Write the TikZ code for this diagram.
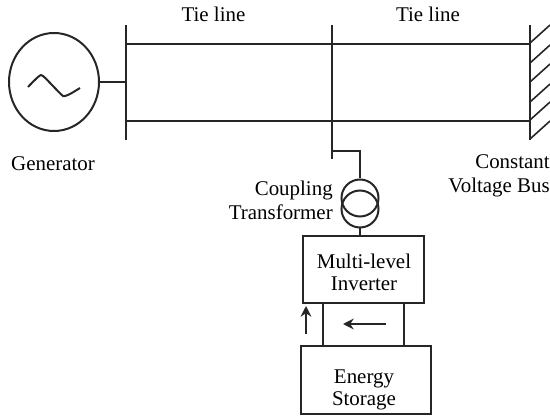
\documentclass[tikz,border=0pt]{standalone}
\usepackage{fontspec}
\setmainfont{Liberation Serif}
\usetikzlibrary{shapes.geometric,arrows.meta}
\tikzset{
  wire/.style={line width=1.5pt,black!85},
  blockbox/.style={draw=black!85,line width=1.5pt,fill=white,inner sep=0pt},
  lbl/.style={inner sep=0pt,align=center,font=\fontsize{15.7}{18}\selectfont},
  flow/.style={line width=1.7pt,black!85,-{Stealth[length=8pt,width=8pt]}}
}
\begin{document}
\begin{tikzpicture}[x=0.75pt,y=-0.75pt]
    \useasboundingbox (0,0) rectangle (550,417);
    % buses
    \coordinate (busAtop) at (126,25);
    \coordinate (busAbot) at (126,140);
    \coordinate (busBtop) at (332,25);
    \coordinate (busBbot) at (332,159);
    \coordinate (busCtop) at (530,25);
    \coordinate (busCbot) at (530,140);
    \draw[wire] (busAtop) -- (busAbot);
    \draw[wire] (busBtop) -- (busBbot);
    \draw[wire] (busCtop) -- (busCbot);
    % tie lines
    \draw[wire] (126,44) coordinate (lineAup) -- (530,44) coordinate (lineCup);
    \draw[wire] (126,121) coordinate (lineAdn) -- (530,121) coordinate (lineCdn);
    % ground hatching
    \foreach \y in {43,63,82,102,120,139}
    \draw[wire,line width=1.2pt] (530,\y) -- ++(20,-18);
    % generator
    \node[draw=black!85,line width=1.5pt,ellipse,inner sep=0pt,
          minimum width=67.5pt,minimum height=73.5pt] (gen) at (54,82) {};
    \coordinate (genbus) at (126,82);
    \draw[wire] (gen) -- (genbus);
    \draw[wire,line join=round] plot[smooth,tension=0.3] coordinates {(28,87) (41,75) (52,85) (63,96) (70,94) (80,88)};
    % transformer
    \node[draw=black!85,line width=1.5pt,circle,minimum size=27.75pt,inner sep=0pt] (trup) at (360,198) {};
    \node[draw=black!85,line width=1.5pt,circle,minimum size=27.75pt,inner sep=0pt] (trdn) at (360,209) {};
    \coordinate (stub) at (332,151);
    \draw[wire] (stub) -| (trup.north);
    % blocks
    \node[blockbox,minimum width=90.75pt,minimum height=50.25pt] (inv) at (363.5,269.5) {};
    \node[blockbox,minimum width=97.5pt,minimum height=51pt] (store) at (366,380) {};
    \node[lbl,font=\fontsize{15.7}{16.5}\selectfont] (invlbl) at (364,272.5) {Multi-level\\[0.5pt]Inverter};
    \node[lbl,font=\fontsize{15.7}{16.5}\selectfont] (storelbl) at (364,390) {Energy\\[0.5pt]Storage};
    \draw[wire] (trdn.south) -- (trdn.south |- inv.north);
    \coordinate (dcLtop) at (323,303);
    \coordinate (dcRtop) at (404,303);
    \draw[wire] (dcLtop) -- (dcLtop |- store.north);
    \draw[wire] (dcRtop) -- (dcRtop |- store.north);
    % power flow arrows
    \coordinate (upS) at (306,334);
    \coordinate (upE) at (306,306);
    \coordinate (leftS) at (386,324);
    \coordinate (leftE) at (343,324);
    \draw[flow] (upS) -- (upE);
    \draw[flow] (leftS) -- (leftE);
    % labels
    \node[lbl] (tieA) at (213.5,14) {Tie line};
    \node[lbl] (tieB) at (428,14) {Tie line};
    \node[lbl] (genlbl) at (53,164) {Generator};
    \node[lbl,align=right,anchor=east] (conslbl) at (550,176) {Constant\\Voltage Bus};
    \node[lbl,align=right,anchor=east] (couplbl) at (333,200.5) {Coupling\\Transformer};
\end{tikzpicture}
\end{document}
